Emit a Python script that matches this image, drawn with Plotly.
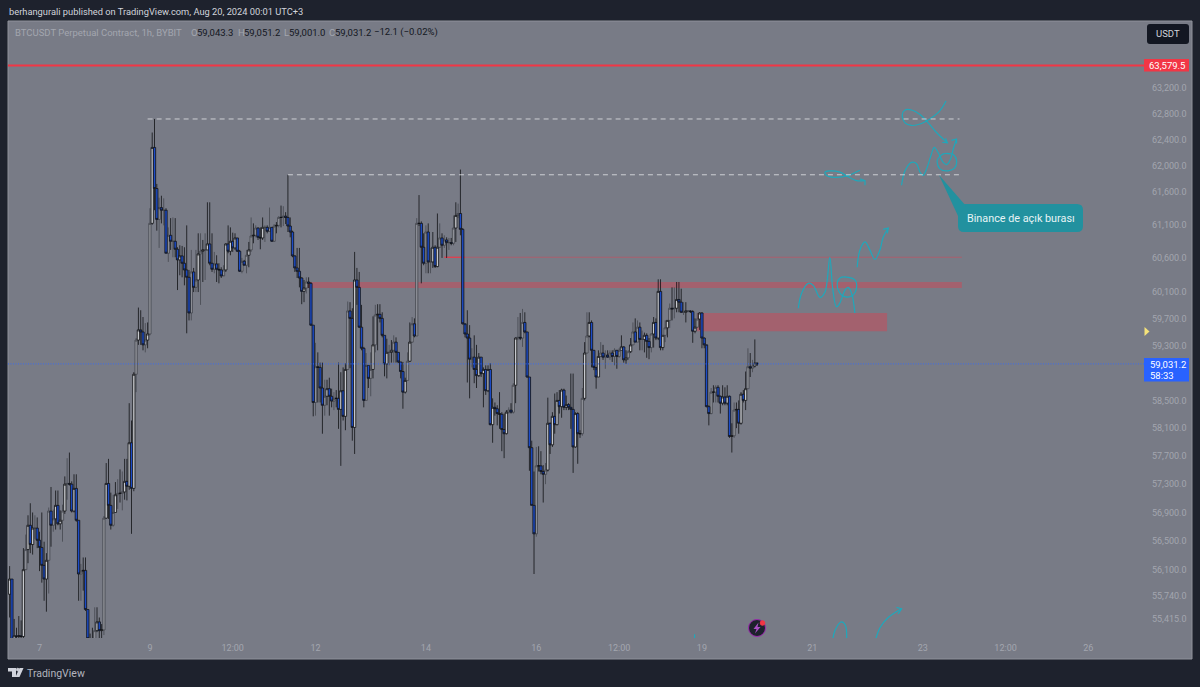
import pandas as pd
import plotly.graph_objects as go

# hourly BTCUSDT candles (first one is Aug 6 11:00)
first_open = 55760
closes = [
    55970,55120,55190,55180,55190,55180,56100,56380,56720,56450,
    56680,56680,56510,56410,56160,55970,56230,56920,56720,56810,
    57000,56740,56790,56920,57300,57310,57300,56920,57240,56790,
    56040,56080,56090,55550,55150,55090,55110,55260,55380,55260,
    55270,56820,57310,57000,56720,56900,57150,57170,57170,57190,
    57340,57270,57890,57240,58880,59380,59530,59500,59310,59380,
    59470,61120,62280,61650,61180,61360,61320,61320,60670,60940,
    60850,60850,60730,60570,60630,60520,60420,60310,59780,60390,
    60160,60270,60660,60700,60720,60720,60810,60520,60430,60510,
    60430,60420,60330,60420,60810,60700,60850,60750,60900,60700,
    60400,60550,60490,60640,60720,60930,60940,61050,60910,60900,
    61060,61060,61000,61060,60850,61080,61090,61210,61210,61230,
    61210,61080,60990,60630,60450,60400,60300,60100,60150,60240,
    60220,59600,58470,58990,58980,58680,58430,58560,58670,58560,
    58490,58530,58530,58370,58640,58270,58950,59810,59700,58110,
    60270,60160,59570,59260,58500,59010,58820,58950,59310,59750,
    59760,59700,59450,59030,59200,59200,59230,59350,59200,59060,
    58920,58620,58790,59070,59350,59620,59440,61120,61120,60760,
    60520,60990,60540,60540,60760,60470,60760,60900,60790,60870,
    60830,60830,60820,61050,61240,61270,61030,59620,59470,59410,
    59100,59130,58950,58860,59130,58890,58950,58640,58950,58150,
    58400,58380,58310,58300,58080,58020,58330,58360,58330,58720,
    59410,59420,59410,59640,59500,58840,57820,57000,56600,57560,
    57560,57480,57440,57500,58170,57860,58270,58150,58500,58410,
    58650,58400,58440,58400,58370,57830,58310,58020,58020,58530,
    59190,59440,59640,59230,58980,58840,59140,59190,59130,59160,
    59130,59190,59140,59230,59140,59230,59280,59090,59120,59210,
    59310,59500,59350,59570,59390,59390,59450,59360,59270,59470,
    59640,59410,60100,59270,59450,59560,59670,59850,59840,59850,
    59980,59940,59790,59790,59810,59810,59800,59510,59570,59690,
    59780,59410,59310,58410,58310,58620,58620,58690,58560,58460,
    58550,58460,58560,57980,57990,58360,58370,58170,58590,58500,
    58670,58990,58970,59000,59043.3,59031.2,
]
highs = [
    56150,55970,55420,55300,55460,55400,56400,56590,56860,57030,
    56900,56860,56830,56630,56900,56490,56330,56970,57260,56940,
    57210,57210,56930,57010,57410,57670,57750,57340,57440,57440,
    56790,56180,56270,56270,55550,55220,55300,55580,55580,55440,
    55350,56850,57600,57660,57180,57150,57330,57370,57510,57480,
    57660,57660,58460,58210,58910,59410,59860,59820,59720,59630,
    59640,61350,62510,62720,61720,61510,61540,61500,61350,61060,
    61200,61210,61200,60760,60790,60780,60760,61090,60420,60720,
    60450,60720,60970,60970,60870,60970,61440,61440,60970,60690,
    60640,60520,60460,60490,60820,61090,61060,60980,60970,60900,
    60720,60600,60570,60720,60840,61210,61120,61090,61060,61060,
    61210,61090,61090,61360,61060,61110,61140,61230,61390,61380,
    61290,61860,61210,61010,60640,60750,60750,60310,60270,60310,
    60310,60240,59600,59340,59200,59050,59050,58800,58800,58830,
    58670,58620,58650,59050,58910,58980,59040,59950,59940,59850,
    60690,60450,60390,59900,59280,59190,59010,59200,59730,59900,
    59910,59910,59790,59450,59400,59310,59380,59450,59420,59200,
    59060,59060,58830,59200,59640,59720,59700,61200,61550,61150,
    60970,61090,61120,60750,60990,60790,61270,61120,60970,60940,
    60910,60900,60900,61240,61440,61420,61940,61050,59600,59820,
    59600,59260,59450,59310,59190,59130,58980,59010,59010,59040,
    58530,58470,58430,58620,58330,58310,58360,58400,58460,58750,
    59420,59720,59780,59840,59790,59500,58840,57920,57480,57830,
    57840,57770,57570,57600,58540,58180,58330,58600,58620,58650,
    58670,58670,58570,58460,58890,58890,58330,58330,58070,58680,
    59350,59790,59790,59670,59230,58940,59230,59350,59310,59230,
    59230,59230,59230,59260,59230,59260,59450,59290,59230,59230,
    59410,59640,59700,59670,59640,59520,59490,59480,59410,59480,
    59720,59700,60280,60280,59450,59670,59670,59920,60160,60160,
    60240,60240,60140,59940,59940,59820,59820,59820,59700,59780,
    59790,59790,59420,59300,58430,58680,58720,58720,58720,58570,
    58720,58690,58720,58570,58170,58470,58470,58500,58620,58650,
    58920,59260,59190,59090,59390,59051.2,
]
lows = [
    55440,55050,55050,55050,55060,55060,55080,56110,56190,56330,
    56310,56530,56400,56080,55920,55670,55520,55770,56420,56630,
    56660,56720,56660,56490,56880,57080,57280,56900,56900,56770,
    55670,55670,55810,55530,55080,55000,55020,55060,55240,55100,
    55100,55200,56810,56810,56660,56700,56900,56950,57040,56930,
    57080,57070,57220,56600,57200,58620,59310,59310,59230,59200,
    59260,59450,61100,61320,61010,60750,61120,61090,60670,60540,
    60720,60610,60610,60120,60340,60310,60190,59480,59670,59670,
    60090,60090,60090,59900,60240,60270,60720,60490,60390,60370,
    60240,60220,60300,60340,60390,60670,60640,60690,60720,60690,
    60390,60370,60490,60370,60460,60690,60820,60910,60870,60730,
    60870,60840,60970,60990,60840,60840,60970,61060,61060,61080,
    61110,60990,60910,60610,60390,60300,60160,59910,59940,60070,
    60150,59590,58270,58280,58470,58470,58020,58280,58430,58280,
    58400,58360,58400,58090,57560,58210,58070,58940,58970,57920,
    57730,59900,59560,59230,58400,58500,58680,58560,58820,59200,
    59230,59640,59420,58850,58820,59010,59050,59050,59050,59040,
    58820,58380,58600,58790,59060,59340,59420,59440,61080,60220,
    60490,60370,60370,60370,60450,60450,60460,60750,60600,60750,
    60600,60720,60790,60790,60840,61200,60940,59610,59420,58760,
    58530,58980,58750,58680,58840,58840,58400,58580,58620,58140,
    57890,58280,58140,58090,57770,57670,58010,58310,58310,58310,
    58460,59380,59380,59280,59480,58830,57490,57000,56040,56560,
    57480,57440,57040,57300,57480,57730,57830,58020,58140,58310,
    58250,58360,58360,58360,58090,57460,57820,57590,57960,57990,
    58500,59190,59420,58980,58940,58670,58840,59130,59090,58960,
    59120,59090,59060,59010,58960,59120,59230,59050,59030,59090,
    59190,59310,59350,59350,59230,59230,59200,59120,59100,59200,
    59270,59380,59380,59230,59230,59350,59420,59560,59670,59700,
    59790,59790,59780,59750,59640,59790,59780,59340,59480,59560,
    59530,59260,59260,58400,58140,58300,58470,58470,58470,58310,
    58430,58430,58430,57960,57750,57960,58100,58020,58150,58470,
    58360,58670,58840,58910,58980,59001.0,
]
assert len(closes) == len(highs) == len(lows)

price_ticks = [63200,62800,62400,62000,61600,61100,60600,60100,59700,59300,58500,58100,57700,57300,56900,56500,56100,55740,55415]
time_ticks = ["2024-08-07","2024-08-09","2024-08-10 12:00","2024-08-12","2024-08-14","2024-08-16","2024-08-17 12:00","2024-08-19","2024-08-21","2024-08-23","2024-08-24 12:00","2024-08-26"]
time_labels = ["7","9","12:00","12","14","16","12:00","19","21","23","12:00","26"]

# hand drawings: hours after Aug 19 00:00 and price
scribble_top_h = [106.1,103.5,99.1,95.5,91.1,88.3,87.1,88.3,91.1,94.8,98.4,102,106.7]
scribble_top_p = [63000,62850,62720,62650,62620,62660,62790,62860,62860,62790,62660,62510,62350]
head_top_h = [104.5,106.7,105.9]
head_top_p = [62360,62350,62420]
scribble_mid_h = [68.7,63.6,58.5,54.2,53.5,55.6,60,63.6,67.2,70.9]
scribble_mid_p = [61930,61850,61820,61850,61900,61920,61900,61830,61770,61770]
head_mid_h = [68.7,70.9,70.9]
head_mid_p = [61800,61770,61700]
scribble_wave_h = [86.8,88.3,91.1,93.3,94.8,96.2,97.7,99.8,101,102.7,104.9,106.4,108.1,109.3,110.7]
scribble_wave_p = [61700,61920,62050,62030,61900,61850,61950,62180,62280,62200,62050,62015,62100,62260,62410]
head_wave_h = [108.5,110.7,110.7]
head_wave_p = [62390,62410,62340]
circle_top_h = [107.8,104.9,102.3,103.5,107.1,110,110.7,109.3,106.4]
circle_top_p = [62180,62180,62080,61950,61920,61970,62080,62170,62190]
scribble_low_h = [41.9,43.3,46.2,48.4,51.3,53.5,55.6,56.8,58.5,60,62.2,63.6,65.1,66.5]
scribble_low_p = [59850,60070,60220,60190,60010,60090,60610,60160,59870,59930,60120,60160,60070,59780]
circle_low_h = [58.8,60,63.6,66.5,67.2,65.1,61.4,59.7,58.8]
circle_low_p = [60220,60300,60310,60270,60150,60030,60030,60090,60220]
scribble_up_h = [67.5,68.7,70.9,73,75.2,77.4,78.8,81]
scribble_up_p = [60460,60720,60840,60720,60580,60720,60910,61050]
head_up_h = [78.8,81,80.6]
head_up_p = [61030,61050,60970]
scribble_arch_h = [56.8,57.8,60.7,62.4,62.9]
scribble_arch_p = [55100,55260,55380,55330,55100]
scribble_rise_h = [75.2,77.4,81,86.8]
scribble_rise_p = [55100,55300,55440,55560]
head_rise_h = [84.6,86.8,85.3]
head_rise_p = [55580,55560,55490]
scribble_tick_h = [-3.2,-3.2]
scribble_tick_p = [55210,55100]

BG = "#787b86"
FRAME = "#1e222d"
MUTED = "#a3a6af"
TEAL = "#1fa8bb"
ZONE = "rgba(242,54,69,0.36)"

REF = pd.Timestamp("2024-08-19 00:00")


def at(hours):
    return REF + pd.Timedelta(hours=hours)


def px(x):
    return (x - 8) / 1136


def py(y):
    return (638 - y) / 616


times = pd.date_range("2024-08-06 11:00", periods=len(closes), freq="h")
opens = [first_open] + closes[:-1]
df = pd.DataFrame({"time": times, "open": opens, "high": highs, "low": lows, "close": closes})

fig = go.Figure()

# every other up candle comes out soft and grey in the screenshot, down ones stay blue
is_soft = (df.index % 2 == 1) & (df["close"] >= df["open"])
soft = df[is_soft]
sharp = df[~is_soft]
fig.add_trace(go.Candlestick(
    x=soft["time"], open=soft["open"], high=soft["high"], low=soft["low"], close=soft["close"],
    increasing=dict(line=dict(color="#45474f", width=0.8), fillcolor="#8f9198"),
    decreasing=dict(line=dict(color="#45474f", width=0.8), fillcolor="#8f9198"),
    whiskerwidth=0, showlegend=False, hoverinfo="skip",
))
fig.add_trace(go.Candlestick(
    x=sharp["time"], open=sharp["open"], high=sharp["high"], low=sharp["low"], close=sharp["close"],
    increasing=dict(line=dict(color="#101114", width=0.8), fillcolor="#c6c8cd"),
    decreasing=dict(line=dict(color="#101114", width=0.8), fillcolor="#1c4cc8"),
    whiskerwidth=0, showlegend=False, hoverinfo="skip",
))

smooth = [
    (scribble_top_h, scribble_top_p), (scribble_mid_h, scribble_mid_p), (scribble_wave_h, scribble_wave_p),
    (circle_top_h, circle_top_p), (scribble_low_h, scribble_low_p), (circle_low_h, circle_low_p),
    (scribble_up_h, scribble_up_p), (scribble_arch_h, scribble_arch_p), (scribble_rise_h, scribble_rise_p),
]
straight = [
    (head_top_h, head_top_p), (head_mid_h, head_mid_p), (head_wave_h, head_wave_p),
    (head_up_h, head_up_p), (head_rise_h, head_rise_p), (scribble_tick_h, scribble_tick_p),
]
for hs, ps in smooth:
    fig.add_trace(go.Scatter(x=[at(h) for h in hs], y=ps, mode="lines", showlegend=False, hoverinfo="skip",
                             line=dict(color=TEAL, width=1.2, shape="spline", smoothing=1)))
for hs, ps in straight:
    fig.add_trace(go.Scatter(x=[at(h) for h in hs], y=ps, mode="lines", showlegend=False, hoverinfo="skip",
                             line=dict(color=TEAL, width=1.2)))

shapes = [
    # grey pane behind plot and both axes
    dict(type="rect", xref="paper", yref="paper", x0=px(8), x1=px(1192), y0=py(659), y1=py(21),
         fillcolor=BG, line=dict(color="#8f929b", width=1), layer="below"),
    # zones
    dict(type="rect", x0=at(-172), x1=at(113), y0=60150, y1=60240, fillcolor=ZONE, line_width=0, layer="below"),
    dict(type="rect", x0=at(-2.2), x1=at(80.5), y0=59510, y1=59780, fillcolor=ZONE, line_width=0, layer="below"),
    dict(type="line", x0=at(-112), x1=at(113), y0=60610, y1=60610, line=dict(color="rgba(242,54,69,0.4)", width=1), layer="below"),
    dict(type="line", x0=at(-112), x1=at(-103), y0=60610, y1=60610, line=dict(color="#f23645", width=1), layer="below"),
    # levels
    dict(type="line", xref="paper", x0=0, x1=1, y0=63555, y1=63555, line=dict(color="#f23645", width=2)),
    dict(type="line", xref="paper", x0=0, x1=1, y0=59031.2, y1=59031.2, line=dict(color="#3a6cf0", width=1, dash="1px,1.5px")),
    dict(type="line", x0="2024-08-08 23:00", x1=at(112), y0=62720, y1=62720, line=dict(color="#e3e4e8", width=0.8, dash="5px,4px")),
    dict(type="line", x0="2024-08-11 12:00", x1=at(112.5), y0=61860, y1=61860, line=dict(color="#e3e4e8", width=0.8, dash="5px,4px")),
]


def pane_path(points):
    return "M " + " L ".join(f"{px(x)} {py(y)}" for x, y in points) + " Z"


def paper_shape(path, color):
    return dict(type="path", xref="paper", yref="paper", path=path, fillcolor=color, line_width=0)


def rounded(x0, y0, x1, y1, r):
    q = lambda a, b: f"{px(a)} {py(b)}"
    return (f"M {q(x0 + r, y0)} L {q(x1 - r, y0)} Q {q(x1, y0)} {q(x1, y0 + r)} L {q(x1, y1 - r)} "
            f"Q {q(x1, y1)} {q(x1 - r, y1)} L {q(x0 + r, y1)} Q {q(x0, y1)} {q(x0, y1 - r)} "
            f"L {q(x0, y0 + r)} Q {q(x0, y0)} {q(x0 + r, y0)} Z")


def circle(cx, cy, r, fill, edge=None):
    return dict(type="circle", xref="paper", yref="paper", x0=px(cx - r), x1=px(cx + r), y0=py(cy + r), y1=py(cy - r),
                fillcolor=fill, line=dict(color=edge or fill, width=1))


shapes += [
    paper_shape(rounded(958, 204, 1083, 232, 6), "#22919f"),
    paper_shape(pane_path([(939, 175), (966, 206), (958, 216)]), "#22919f"),
    paper_shape(rounded(1147, 24, 1189, 44, 3), "#131722"),
    dict(type="rect", xref="paper", yref="paper", x0=px(1144), x1=px(1189), y0=py(71.5), y1=py(59), fillcolor="#f23645", line_width=0),
    dict(type="rect", xref="paper", yref="paper", x0=px(1144), x1=px(1189), y0=py(381.5), y1=py(358), fillcolor="#2962ff", line_width=0),
    paper_shape(pane_path([(1144.5, 327), (1149.5, 331.5), (1144.5, 336)]), "#f5e37a"),
    circle(757, 628, 8.5, "#1e222d", "#9c27b0"),
    paper_shape(pane_path([(758.5, 622.5), (753.5, 629), (756.5, 629), (755, 633.5), (760.5, 627), (757.5, 627)]), "#a94fc4"),
    circle(762.5, 623, 2.3, "#f23645"),
    # TradingView mark
    paper_shape(pane_path([(8, 668), (16, 668), (16, 677), (12, 677), (12, 671.5), (8, 671.5)]), "#d1d4dc"),
    paper_shape(pane_path([(19.5, 668), (23.5, 668), (19.5, 677), (15.5, 677)]), "#d1d4dc"),
    circle(17.7, 669.6, 1.3, "#d1d4dc"),
]

annotations = []


def label(x, y, text, color=MUTED, size=9, anchor="left", family="Roboto"):
    annotations.append(dict(xref="paper", yref="paper", x=px(x), y=py(y), text=text, showarrow=False,
                            xanchor=anchor, yanchor="middle", align=anchor, borderpad=0,
                            font=dict(family=family, size=size, color=color)))


label(8, 11, "berhangurali published on TradingView.com, Aug 20, 2024 00:01 UTC+3", "#d1d4dc", 9.3)
label(14, 32, "BTCUSDT Perpetual Contract, 1h, BYBIT", MUTED, 9.5)
for x, text, color in [
    (190, "O", MUTED), (196.5, "59,043.3", "#131722"),
    (236.5, "H", MUTED), (243, "59,051.2", "#131722"),
    (283, "L", MUTED), (287.5, "59,001.0", "#131722"),
    (328, "C", MUTED), (333.5, "59,031.2", "#131722"),
    (373, "−12.1 (−0.02%)", "#131722"),
]:
    label(x, 32, text, color, 9.5)
label(1168, 34, "USDT", "#d1d4dc", 9.5, "center")
label(1166.5, 65.5, "63,579.5", "#ffffff", 9.5, "center")
label(1168, 364, "59,031.2", "#ffffff", 9.5, "center")
label(1162, 375, "58:33", "#ffffff", 9.5, "center")
label(1021, 218, "Binance de açık burası", "#e8f4f6", 10.8, "center")
label(26, 673, "TradingView", "#b2b5be", 10.5)

fig.update_layout(
    width=1200, height=687,
    margin=dict(l=8, r=56, t=22, b=49, pad=0),
    paper_bgcolor=FRAME, plot_bgcolor=BG,
    shapes=shapes, annotations=annotations,
    showlegend=False, dragmode=False, boxgap=0, boxgroupgap=0,
    xaxis=dict(
        type="date", range=[at(-301.7), at(192.2)], rangeslider=dict(visible=False),
        tickmode="array", tickvals=time_ticks, ticktext=time_labels, showgrid=False, zeroline=False,
        ticks="", ticklabelstandoff=3, showline=False, tickfont=dict(family="Roboto", size=9, color=MUTED),
    ),
    yaxis=dict(
        type="log", side="right", range=[4.74162, 4.80783],
        tickmode="array", tickvals=price_ticks, ticktext=[f"{p:,.1f}" for p in price_ticks],
        showgrid=False, zeroline=False, ticks="", ticklabelstandoff=7, showline=False,
        tickfont=dict(family="Roboto", size=9, color=MUTED),
    ),
)

fig.write_html("out.html", config=dict(displayModeBar=False), post_script="document.body.style.margin='0';")
